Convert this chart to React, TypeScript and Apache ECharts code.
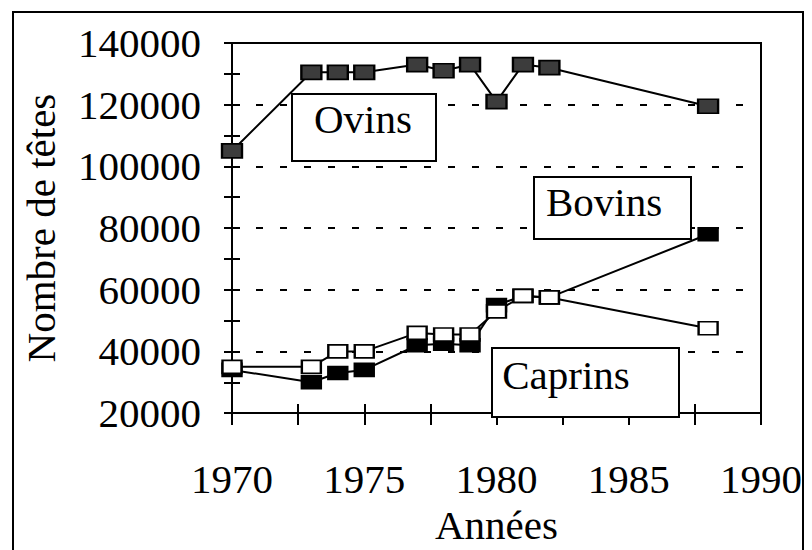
import React, { useEffect, useRef } from "react";
import * as echarts from "echarts";

const years = [1970, 1973, 1974, 1975, 1977, 1978, 1979, 1980, 1981, 1982, 1988];
const ovins = [105000, 130500, 130500, 130500, 133000, 131000, 133000, 121000, 133000, 132000, 119500];
const bovins = [34000, 30000, 33000, 34000, 42000, 42500, 42000, 55000, 58000, 57500, 78000];
const caprins = [35000, 35000, 40000, 40000, 46000, 45500, 45500, 53000, 58000, 57500, 47500];

const xTitle = "Années";
const yTitle = "Nombre de têtes";
const boxLabels = ["Ovins", "Bovins", "Caprins"];

const FONT = '"Liberation Serif", "Times New Roman", serif';

function pairs(vals: number[]) {
  return years.map((y, i) => [y, vals[i]]);
}

export default function App() {
  const ref = useRef<HTMLDivElement>(null);
  useEffect(() => {
    if (!ref.current) return;
    const chart = echarts.init(ref.current, null, { renderer: "svg" });
    const txt = { fontFamily: FONT, fontSize: 41, color: "#000" };
    const boxes = [
      { label: boxLabels[0], x: 292, y: 94, w: 144, h: 67, tx: 363, ty: 119 },
      { label: boxLabels[1], x: 534, y: 177, w: 157, h: 62, tx: 604, ty: 202 },
      { label: boxLabels[2], x: 492, y: 348, w: 187, h: 69, tx: 566, ty: 375 },
    ];
    const tickStyle = { color: "#000", width: 2 };
    const option: any = {
      animation: false,
      backgroundColor: "#fff",
      grid: {
        left: 232,
        right: 51,
        top: 43,
        bottom: 127,
        show: true,
        borderColor: "#000",
        borderWidth: 2,
        backgroundColor: "transparent",
      },
      xAxis: [
        {
          type: "value",
          min: 1970,
          max: 1990,
          interval: 5,
          position: "bottom",
          name: xTitle,
          nameLocation: "middle",
          nameGap: 88,
          nameTextStyle: { ...txt },
          axisLine: { onZero: false, lineStyle: { color: "#000", width: 2 } },
          axisTick: { show: true, inside: false, length: 12, lineStyle: tickStyle },
          minorTick: { show: true, splitNumber: 2, length: 12, lineStyle: tickStyle },
          axisLabel: { ...txt, margin: 45, formatter: (v: number) => String(v) },
          splitLine: { show: false },
        },
        {
          type: "value",
          min: 1970,
          max: 1990,
          interval: 5,
          position: "bottom",
          axisLine: { show: false, onZero: false },
          axisTick: { show: true, inside: true, length: 9, lineStyle: tickStyle },
          minorTick: { show: true, splitNumber: 2, length: 9, lineStyle: tickStyle },
          axisLabel: { show: false },
          splitLine: { show: false },
        },
      ],
      yAxis: [
        {
          type: "value",
          min: 20000,
          max: 140000,
          interval: 20000,
          position: "left",
          name: yTitle,
          nameLocation: "middle",
          nameGap: 171,
          nameTextStyle: { ...txt },
          axisLine: { onZero: false, lineStyle: { color: "#000", width: 2 } },
          axisTick: { show: true, inside: false, length: 8, lineStyle: tickStyle },
          minorTick: { show: true, splitNumber: 2, length: 8, lineStyle: tickStyle },
          axisLabel: { ...txt, margin: 31, formatter: (v: number) => String(v) },
          splitLine: { show: true, lineStyle: { color: "#000", width: 2, type: [7, 17] } },
        },
        {
          type: "value",
          min: 20000,
          max: 140000,
          interval: 20000,
          position: "left",
          axisLine: { show: false, onZero: false },
          axisTick: { show: true, inside: true, length: 8, lineStyle: tickStyle },
          minorTick: { show: true, splitNumber: 2, length: 8, lineStyle: tickStyle },
          axisLabel: { show: false },
          splitLine: { show: false },
        },
      ],
      series: [
        {
          name: "Ovins",
          type: "line",
          data: pairs(ovins),
          symbol: "rect",
          symbolSize: [20, 14],
          lineStyle: { color: "#000", width: 2 },
          itemStyle: { color: "#3c3c3c", borderColor: "#000", borderWidth: 2 },
          z: 3,
        },
        {
          name: "Bovins",
          type: "line",
          data: pairs(bovins),
          symbol: "rect",
          symbolSize: [19, 13],
          lineStyle: { color: "#000", width: 2 },
          itemStyle: { color: "#000", borderColor: "#000", borderWidth: 2 },
          z: 3,
        },
        {
          name: "Caprins",
          type: "line",
          data: pairs(caprins),
          symbol: "rect",
          symbolSize: [19, 13],
          lineStyle: { color: "#000", width: 2 },
          itemStyle: { color: "#fff", borderColor: "#000", borderWidth: 2 },
          z: 4,
        },
      ],
      graphic: [
        {
          type: "rect",
          silent: true,
          z: 0,
          shape: { x: 13, y: 12, width: 790, height: 600 },
          style: { fill: "none", stroke: "#000", lineWidth: 2 },
        },
        ...boxes.flatMap((b) => [
          {
            type: "rect",
            z: 10,
            shape: { x: b.x, y: b.y, width: b.w, height: b.h },
            style: { fill: "#fff", stroke: "#000", lineWidth: 2 },
          },
          {
            type: "text",
            z: 11,
            x: b.tx,
            y: b.ty,
            style: {
              text: b.label,
              font: `41px ${FONT}`,
              fill: "#000",
              align: "center",
              verticalAlign: "middle",
            },
          },
        ]),
      ],
    };
    chart.setOption(option);
    return () => chart.dispose();
  }, []);
  return (
    <div
      ref={ref}
      style={{ position: "fixed", left: 0, top: 0, width: 812, height: 550, background: "#fff" }}
    />
  );
}
